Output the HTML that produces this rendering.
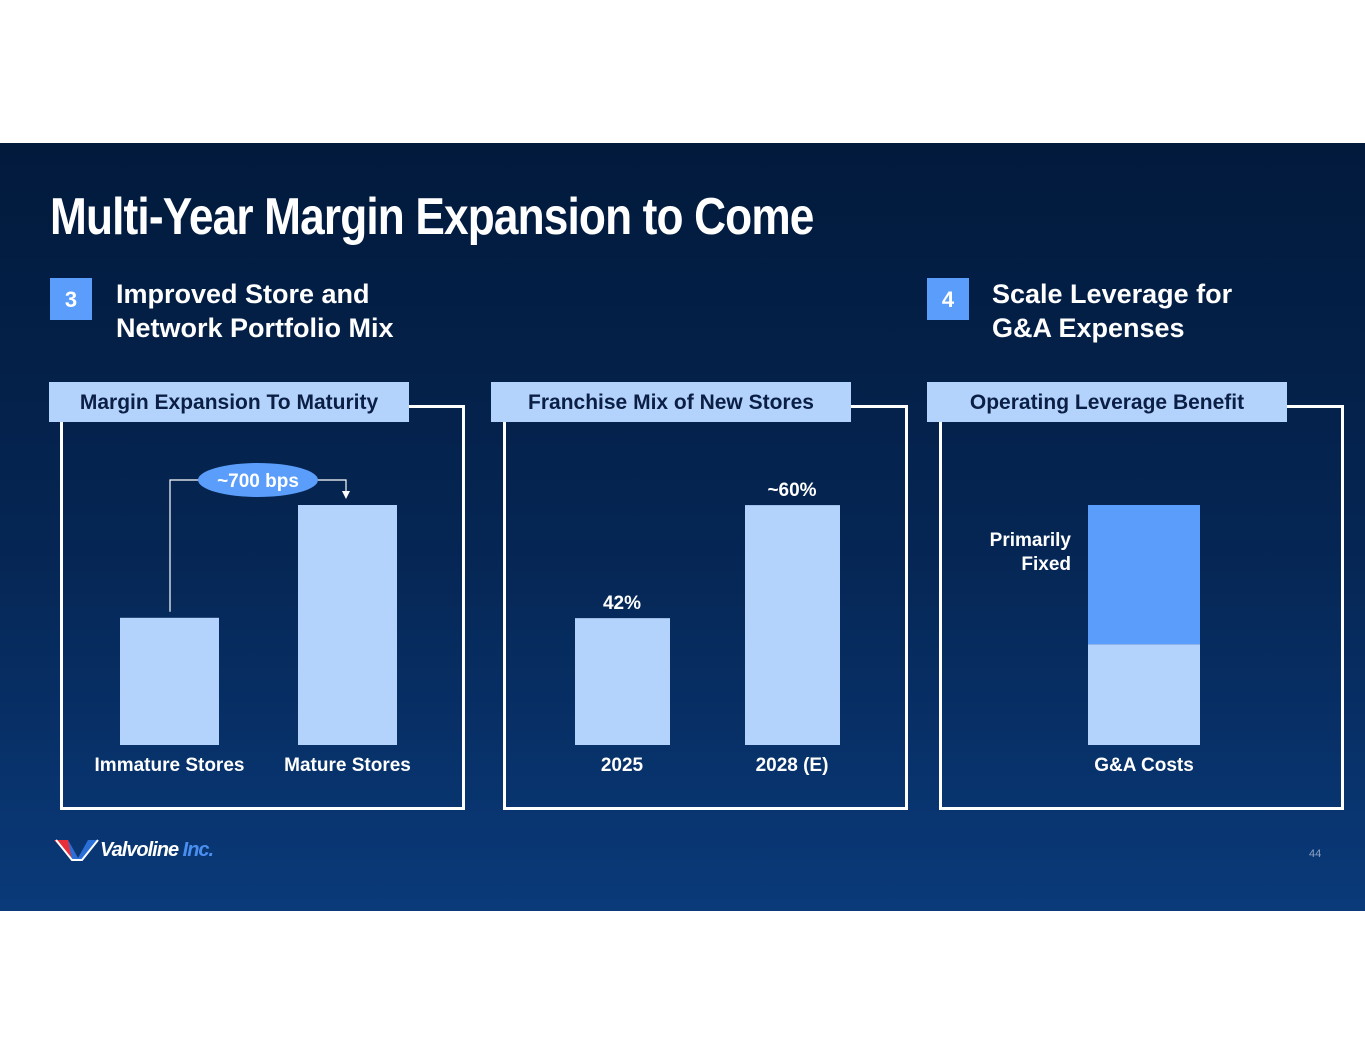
<!DOCTYPE html>
<html><head><meta charset="utf-8"><style>
body{margin:0;width:1365px;height:1055px;background:#fff;position:relative;font-family:"Liberation Sans",sans-serif;overflow:hidden}
#slide{position:absolute;left:0;top:143px;width:1365px;height:768px;background:linear-gradient(180deg,#021a3c 0%,#052552 50%,#0a3a7a 100%)}
.abs{position:absolute}
.title{left:50px;top:44px;color:#fff;font-size:52px;font-weight:bold;font-family:"Liberation Sans Narrow","Liberation Sans",sans-serif;letter-spacing:-1px;transform:scaleX(.85);transform-origin:left;white-space:nowrap}
.num{width:42px;height:42px;background:#5b9dfb;color:#fff;font-size:22px;font-weight:bold;text-align:center;line-height:44px}
.sub{color:#fff;font-size:27px;font-weight:bold;line-height:34px}
.box{border:3px solid #fff;width:399px;height:399px}
.tab{background:#b3d3fd;color:#0b1f45;font-size:21px;font-weight:bold;height:40px;line-height:42px;text-align:center;width:360px}
.lbl{color:#fff;font-size:19px;font-weight:bold;text-align:center}
</style></head><body>
<div id="slide">
<div class="abs title">Multi-Year Margin Expansion to Come</div>
<div class="abs num" style="left:50px;top:135px">3</div>
<div class="abs sub" style="left:116px;top:134px">Improved Store and<br>Network Portfolio Mix</div>
<div class="abs num" style="left:927px;top:135px">4</div>
<div class="abs sub" style="left:992px;top:134px">Scale Leverage for<br>G&amp;A Expenses</div>

<div class="abs box" style="left:60px;top:262px"></div>
<div class="abs box" style="left:503px;top:262px"></div>
<div class="abs box" style="left:939px;top:262px"></div>
<div class="abs tab" style="left:49px;top:239px">Margin Expansion To Maturity</div>
<div class="abs tab" style="left:491px;top:239px">Franchise Mix of New Stores</div>
<div class="abs tab" style="left:927px;top:239px">Operating Leverage Benefit</div>

<svg id="charts" class="abs" style="left:0;top:0" width="1365" height="768"></svg>

<div class="abs" style="left:54px;top:695px">
<svg width="46" height="24"><polygon points="0,2 14,2 24,20 18,22" fill="#e8303a"/><polygon points="14,2 24,20 34,2 44,2 28,22 18,22" fill="#2a6fd8"/><polyline points="2,2 18,22 28,22 44,2" fill="none" stroke="#fff" stroke-width="2"/></svg>
<span class="abs" style="left:46px;top:1px;color:#fff;font-weight:bold;font-size:20px;font-style:italic;letter-spacing:-1px;white-space:nowrap">Valvoline<span style="color:#4a8ff0"> Inc.</span></span></div>
<div class="abs" style="left:1309px;top:705px;color:#8ea3c4;font-size:11px">44</div>
</div>
<script>
const p1Cats=["Immature Stores","Mature Stores"];
const p1Vals=[53,100];
const p2Cats=["2025","2028 (E)"];
const p2Vals=[42,60];
const p2Labels=["42%","~60%"];
const p3Cat=["G&A Costs"];
const p3Variable=[42];
const p3Fixed=[58];
const NS="http://www.w3.org/2000/svg";
const svg=document.getElementById('charts');
const base=602;
function mk(t,a){const e=document.createElementNS(NS,t);for(const k in a)e.setAttribute(k,a[k]);svg.appendChild(e);return e;}
function txt(x,y,s,name,anchor){const e=mk('text',{x:x,y:y,fill:'#fff','font-size':19,'font-weight':'bold','text-anchor':anchor||'middle','font-family':'Liberation Sans,sans-serif'});e.textContent=s;return e;}
const y1=v=>base-v*2.4;
const p1X=[120,298];
p1Vals.forEach((v,i)=>{const r=mk('rect',{x:p1X[i],y:y1(v),width:99,height:base-y1(v),fill:'#b3d3fd'});


txt(p1X[i]+49.5,628,p1Cats[i],'x-label-'+i);});
const c=mk('polyline',{points:`170,${y1(p1Vals[0])-6} 170,337 346,337 346,350`,fill:'none',stroke:'#fff','stroke-width':1.2});

const ar=mk('polygon',{points:'342,348 350,348 346,356',fill:'#fff'});

const el=mk('ellipse',{cx:258,cy:337,rx:60,ry:17,fill:'#5b9dfb'});

txt(258,344,'~700 bps','bps-label');
const y2=v=>base-(v-21.8)*6.28;
const p2X=[575,745];
p2Vals.forEach((v,i)=>{const r=mk('rect',{x:p2X[i],y:y2(v),width:95,height:base-y2(v),fill:'#b3d3fd'});


txt(p2X[i]+47,y2(v)-9,p2Labels[i],'value-label-'+i);
txt(p2X[i]+47,628,p2Cats[i],'x-label-'+p2Cats[i]);});
const y3=v=>base-v*2.4;
const rv=mk('rect',{x:1088,y:y3(p3Variable[0]),width:112,height:base-y3(p3Variable[0]),fill:'#b3d3fd'});

const rf=mk('rect',{x:1088,y:y3(p3Variable[0]+p3Fixed[0]),width:112,height:p3Fixed[0]*2.4,fill:'#5b9dfb'});

txt(1144,628,p3Cat[0],'x-label-ga-costs');
txt(1071,403,'Primarily','fixed-label-1','end');
txt(1071,427,'Fixed','fixed-label-2','end');
</script>
</body></html>
